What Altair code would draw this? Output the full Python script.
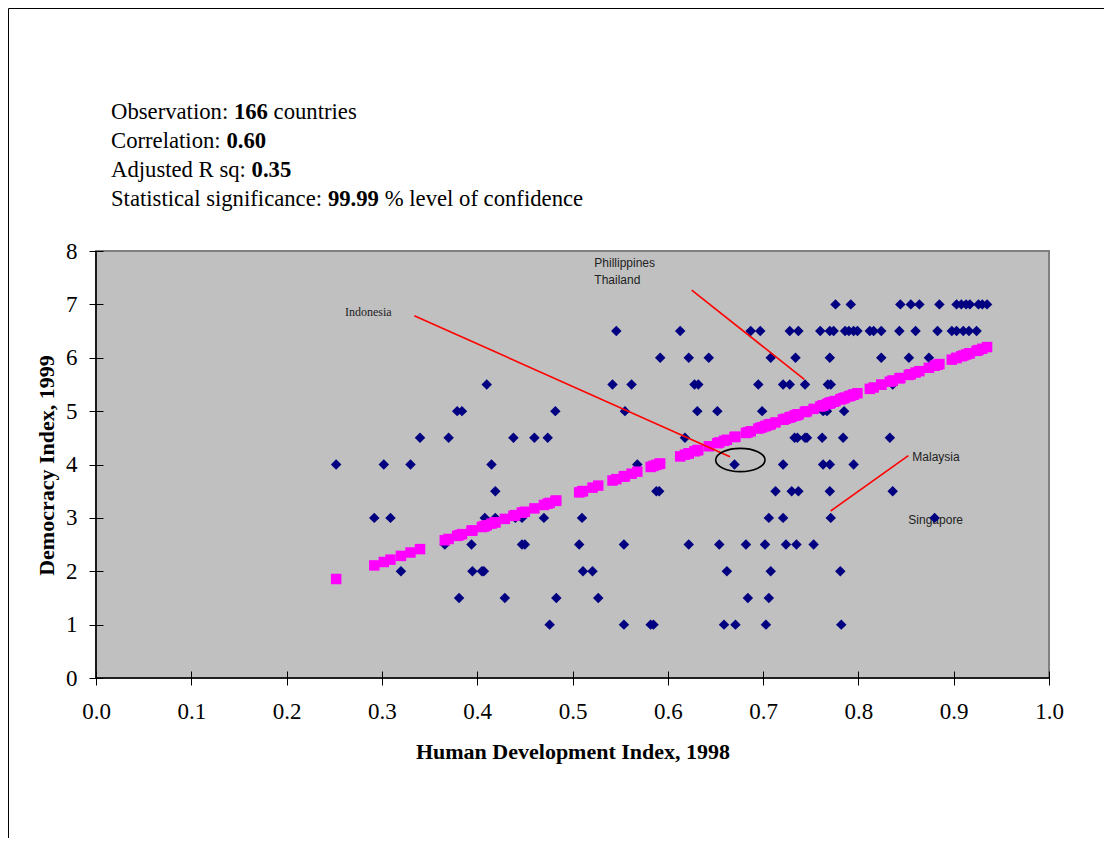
import altair as alt
import pandas as pd

# ---------------- data ----------------
# Human Development Index (1998) of the countries, grouped by Democracy Index (1999)
DEM_LEVELS = [7.0, 6.5, 6.0, 5.5, 5.0, 4.5, 4.0, 3.5, 3.0, 2.5, 2.0, 1.5, 1.0]
HDI_7_0 = [0.776, 0.792, 0.844, 0.855, 0.864, 0.885, 0.903, 0.908, 0.913, 0.917, 0.926, 0.930, 0.935]
HDI_6_5 = [0.546, 0.613, 0.687, 0.697, 0.728, 0.737, 0.760, 0.770, 0.774, 0.786, 0.790, 0.795,
           0.799, 0.812, 0.816, 0.824, 0.843, 0.860, 0.883, 0.898, 0.903, 0.910, 0.916, 0.924]
HDI_6_0 = [0.592, 0.622, 0.643, 0.708, 0.734, 0.770, 0.824, 0.853, 0.874]
HDI_5_5 = [0.410, 0.542, 0.562, 0.628, 0.632, 0.695, 0.721, 0.728, 0.744, 0.768, 0.771, 0.836]
HDI_5_0 = [0.379, 0.384, 0.482, 0.555, 0.631, 0.652, 0.699, 0.763, 0.767, 0.785]
HDI_4_5 = [0.340, 0.370, 0.438, 0.460, 0.474, 0.618, 0.733, 0.736, 0.744, 0.746, 0.762, 0.784, 0.833]
HDI_4_0 = [0.252, 0.302, 0.330, 0.415, 0.568, 0.670, 0.721, 0.763, 0.770, 0.795]
HDI_3_5 = [0.419, 0.588, 0.591, 0.713, 0.730, 0.737, 0.770, 0.836]
HDI_3_0 = [0.292, 0.309, 0.408, 0.419, 0.440, 0.447, 0.470, 0.510, 0.706, 0.721, 0.771, 0.880]
HDI_2_5 = [0.366, 0.394, 0.447, 0.450, 0.507, 0.554, 0.622, 0.654, 0.682, 0.702, 0.724, 0.735, 0.753]
HDI_2_0 = [0.320, 0.395, 0.405, 0.407, 0.511, 0.521, 0.662, 0.708, 0.781]
HDI_1_5 = [0.381, 0.429, 0.483, 0.527, 0.684, 0.706]
HDI_1_0 = [0.476, 0.554, 0.582, 0.585, 0.659, 0.671, 0.703, 0.782]
HDI_ROWS = [HDI_7_0, HDI_6_5, HDI_6_0, HDI_5_5, HDI_5_0, HDI_4_5, HDI_4_0,
            HDI_3_5, HDI_3_0, HDI_2_5, HDI_2_0, HDI_1_5, HDI_1_0]

# fitted (predicted) line, read from its two end squares in the picture
FIT_HDI = [0.252, 0.935]
FIT_DEM = [1.855, 6.20]

# statistics box
N_OBS = "166"
CORRELATION = "0.60"
ADJ_R_SQ = "0.35"
SIGNIFICANCE = "99.99"

# annotations (data coordinates)
LABEL_TEXT = ["Indonesia", "Phillippines", "Thailand", "Malaysia", "Singapore"]
LABEL_HDI = [0.2613, 0.5229, 0.5229, 0.8566, 0.8524]
LABEL_DEM = [6.782, 7.695, 7.382, 4.071, 2.880]
LABEL_SERIF = [True, False, False, False, False]

LINE_HDI = [0.334, 0.6251, 0.8524]
LINE_DEM = [6.788, 7.269, 4.165]
LINE_HDI2 = [0.6653, 0.7432, 0.7709]
LINE_DEM2 = [4.146, 5.596, 3.129]

CIRCLE_HDI = [0.6761]
CIRCLE_DEM = [4.084]

# ---------------- tables ----------------
rows = []
for lvl, xs in zip(DEM_LEVELS, HDI_ROWS):
    for v in xs:
        rows.append({"hdi": v, "dem": lvl})
df = pd.DataFrame(rows)

labels = pd.DataFrame({"text": LABEL_TEXT, "hdi": LABEL_HDI, "dem": LABEL_DEM, "serif": LABEL_SERIF})
lines = pd.DataFrame({"hdi": LINE_HDI, "dem": LINE_DEM, "hdi2": LINE_HDI2, "dem2": LINE_DEM2})
circle = pd.DataFrame({"hdi": CIRCLE_HDI, "dem": CIRCLE_DEM})

# ---------------- layout ----------------
W, H = 953, 427
PAD_L, PAD_T, PAD_R, PAD_B = 88, 243, 55, 160
SERIF = "Liberation Serif"
SANS = "Liberation Sans"

xscale = alt.Scale(domain=[0, 1], nice=False, zero=False)
yscale = alt.Scale(domain=[0, 8], nice=False, zero=False)
xaxis = alt.Axis(values=[i / 10 for i in range(11)], format=".1f", grid=False, domain=False,
                 offset=-7, tickSize=14, tickColor="black", tickWidth=1, labelFlush=False,
                 labelOverlap=False,
                 labelFont=SERIF, labelFontSize=23, labelColor="black", labelPadding=15,
                 title="Human Development Index, 1998", titleFont=SERIF, titleFontSize=22,
                 titleFontWeight="bold", titleColor="black", titleX=W / 2, titleY=87,
                 titleAlign="center", titleBaseline="alphabetic", titleAngle=0, zindex=1)
yaxis = alt.Axis(values=list(range(9)), format="d", grid=False, domain=False,
                 offset=-7, tickSize=14, tickColor="black", tickWidth=1, labelFlush=False,
                 labelOverlap=False,
                 labelFont=SERIF, labelFontSize=23, labelColor="black", labelPadding=12,
                 title="Democracy Index, 1999", titleFont=SERIF, titleFontSize=22,
                 titleFontWeight="bold", titleColor="black", titleX=-50, titleY=214,
                 titleAlign="center", titleBaseline="alphabetic", titleAngle=270, zindex=1)


def X(field):
    return alt.X(field, type="quantitative", scale=xscale, axis=xaxis)


def Y(field):
    return alt.Y(field, type="quantitative", scale=yscale, axis=yaxis)


# annotation texts in plot
label_serif = alt.Chart(labels).transform_filter("datum.serif").mark_text(
    align="left", baseline="alphabetic", font=SERIF, fontSize=12, color="#222222"
).encode(x=X("hdi"), y=Y("dem"), text="text:N")
label_sans = alt.Chart(labels).transform_filter("!datum.serif").mark_text(
    align="left", baseline="alphabetic", font=SANS, fontSize=12, color="#222222"
).encode(x=X("hdi"), y=Y("dem"), text="text:N")

points = alt.Chart(df).mark_point(
    shape="diamond", filled=True, size=110, color="#000080", opacity=1
).encode(x=X("hdi"), y=Y("dem"))

# predicted values: one square per country on the fitted line
x0, x1 = FIT_HDI
y0, y1 = FIT_DEM
fitted = alt.Chart(df).transform_calculate(
    fit=f"{y0} + ({y1} - {y0}) / ({x1} - {x0}) * (datum.hdi - {x0})"
).mark_point(
    shape="square", filled=True, size=110, color="#FF00FF", opacity=1
).encode(x=X("hdi"), y=Y("fit"))

red_lines = alt.Chart(lines).mark_rule(color="#FF0000", strokeWidth=1.6).encode(
    x=X("hdi"), y=Y("dem"), x2="hdi2:Q", y2="dem2:Q")

ellipse = alt.Chart(circle).mark_point(
    shape="M-1,0A1,0.473,0,1,0,1,0A1,0.473,0,1,0,-1,0Z", size=2430, filled=False,
    stroke="black", strokeWidth=1.6, opacity=1
).encode(x=X("hdi"), y=Y("dem"))

one = pd.DataFrame({"k": [0]})
x_domain_line = alt.Chart(one).mark_rule(color="black", strokeWidth=1.6).encode(
    x=alt.X(datum=0, type="quantitative", scale=xscale, axis=xaxis),
    x2=alt.X2(datum=1),
    y=alt.Y(datum=0, type="quantitative", scale=yscale, axis=yaxis))
y_domain_line = alt.Chart(one).mark_rule(color="black", strokeWidth=1.6).encode(
    x=alt.X(datum=0, type="quantitative", scale=xscale, axis=xaxis),
    y=alt.Y(datum=0, type="quantitative", scale=yscale, axis=yaxis),
    y2=alt.Y2(datum=8))

# outer chart frame (left and top edges visible)
frame_left = alt.Chart(one).mark_rule(color="black", strokeWidth=1).encode(
    x=alt.value(-PAD_L + 0.5), y=alt.value(-PAD_T + 0.5), y2=alt.value(H + PAD_B))
frame_top = alt.Chart(one).mark_rule(color="black", strokeWidth=1).encode(
    x=alt.value(-PAD_L + 0.5), x2=alt.value(W + PAD_R), y=alt.value(-PAD_T + 0.5))

# statistics text block (page coordinates -> plot coordinates)
segments = [
    ("Observation:", 111, 119, "normal"), (N_OBS, 233.9, 119, "bold"), ("countries", 273.6, 119, "normal"),
    ("Correlation:", 111, 148, "normal"), (CORRELATION, 226.4, 148, "bold"),
    ("Adjusted R sq:", 111, 177, "normal"), (ADJ_R_SQ, 251.6, 177, "bold"),
    ("Statistical significance:", 111, 206, "normal"), (SIGNIFICANCE, 327.9, 206, "bold"),
    ("% level of confidence", 384.7, 206, "normal"),
]
stat_layers = []
for txt, px, py, wt in segments:
    stat_layers.append(
        alt.Chart(pd.DataFrame({"t": [txt]})).mark_text(
            align="left", baseline="alphabetic", font=SERIF, fontSize=22.7,
            fontWeight=wt, color="black"
        ).encode(x=alt.value(px - 8 - PAD_L), y=alt.value(py - 8 - PAD_T), text="t:N")
    )

chart = alt.layer(
    label_serif, label_sans, points, fitted, red_lines, ellipse,
    x_domain_line, y_domain_line, frame_left, frame_top, *stat_layers
).properties(
    width=W, height=H,
    padding={"left": PAD_L, "top": PAD_T, "right": PAD_R, "bottom": PAD_B},
    autosize=alt.AutoSizeParams(type="none"),
    background="white",
).configure_view(
    fill="#C0C0C0", stroke="#808080", strokeWidth=2
)

chart.save("out.html", embed_options={"renderer": "svg", "actions": False})
